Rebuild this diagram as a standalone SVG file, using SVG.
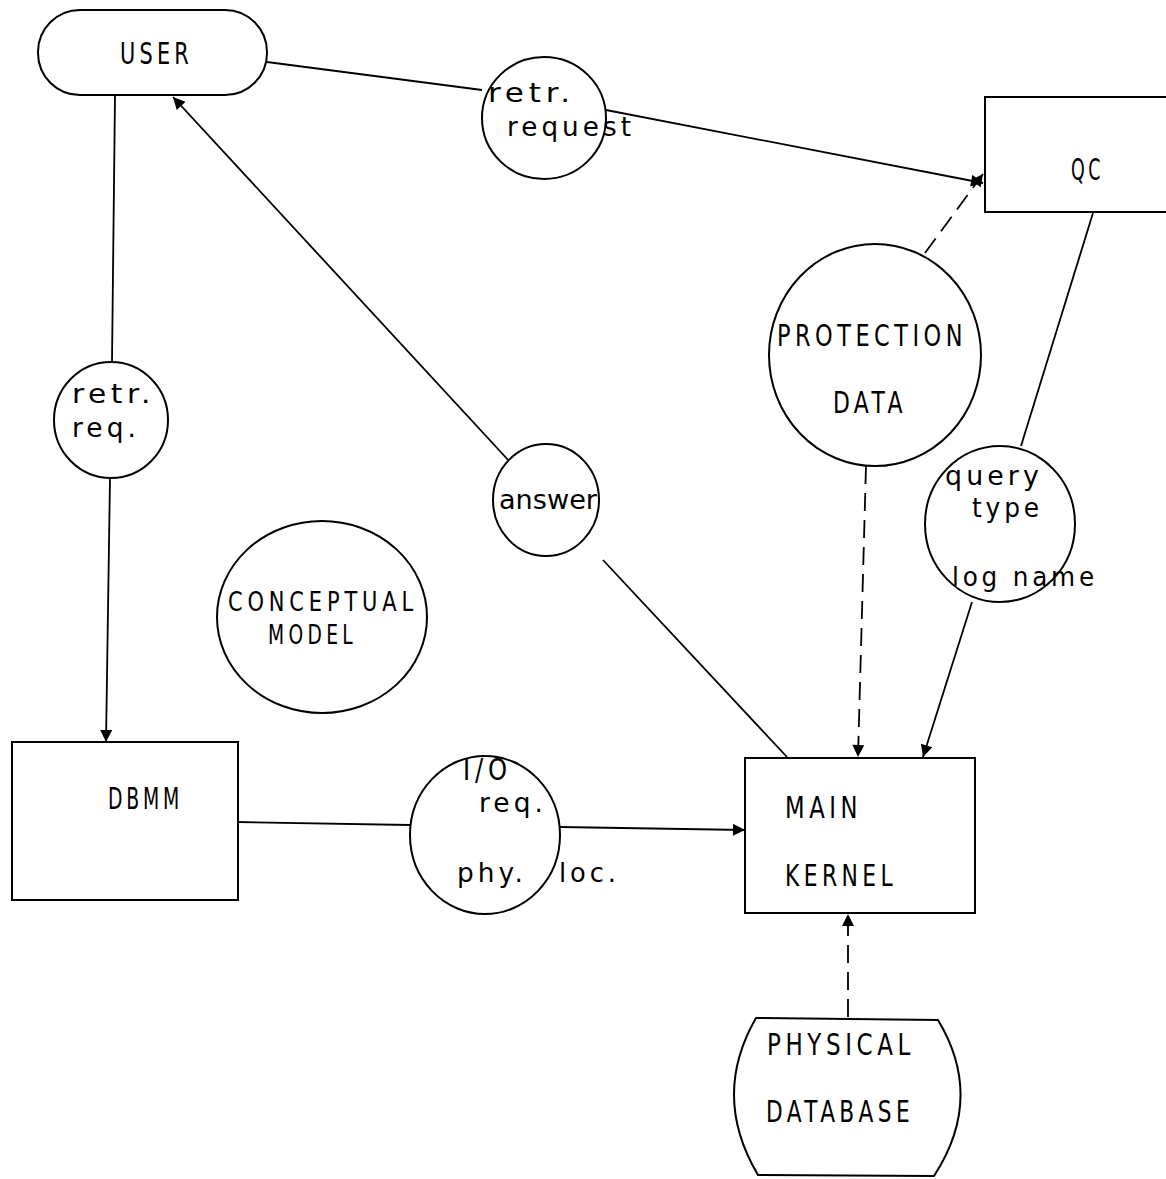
<svg xmlns="http://www.w3.org/2000/svg" width="1166" height="1179" viewBox="0 0 1166 1179">
<defs>
<marker id="ah" viewBox="0 0 10 10" refX="10" refY="5" markerWidth="15" markerHeight="12" markerUnits="userSpaceOnUse" orient="auto"><path d="M0,0 L10,5 L0,10 z" fill="#000"/></marker>
<style>
.n{fill:#fff;stroke:#000;stroke-width:2}
.c{fill:none;stroke:#000;stroke-width:1.8}
.d{fill:none;stroke:#000;stroke-width:1.8;stroke-dasharray:18 9}
text{font-family:"DejaVu Sans","Liberation Sans",sans-serif;fill:#000}
.u{font-size:30px;letter-spacing:6px}
.s{font-size:26px;letter-spacing:6px}
.l{font-size:26px;letter-spacing:4px}
</style>
</defs>
<rect width="1166" height="1179" fill="#fff"/>
<g id="connectors">
<line class="c" x1="267" y1="62" x2="482" y2="90"/>
<line class="c" x1="606" y1="110" x2="983" y2="183" marker-end="url(#ah)"/>
<line class="d" x1="925" y1="253" x2="983" y2="174" marker-end="url(#ah)"/>
<line class="c" x1="1093" y1="213" x2="1021" y2="446"/>
<line class="c" x1="972" y1="602" x2="923" y2="757" marker-end="url(#ah)"/>
<line class="d" x1="866" y1="466" x2="858" y2="757" marker-end="url(#ah)"/>
<line class="c" x1="787" y1="757" x2="603" y2="560"/>
<line class="c" x1="510" y1="462" x2="173" y2="97" marker-end="url(#ah)"/>
<line class="c" x1="115" y1="95" x2="112" y2="362"/>
<line class="c" x1="110" y1="478" x2="106" y2="742" marker-end="url(#ah)"/>
<line class="c" x1="238" y1="822" x2="410" y2="825"/>
<line class="c" x1="560" y1="827" x2="745" y2="830" marker-end="url(#ah)"/>
<line class="d" x1="848" y1="1017" x2="848" y2="914" marker-end="url(#ah)"/>
</g>
<g id="user">
<rect class="n" x="38" y="10" width="229" height="85" rx="42" ry="42"/>
<text class="u" x="120" y="64" textLength="73" lengthAdjust="spacingAndGlyphs">USER</text>
</g>
<g id="retr-request">
<ellipse class="n" cx="544" cy="118" rx="62" ry="61"/>
<text class="l" x="488" y="102" textLength="87" lengthAdjust="spacingAndGlyphs">retr.</text>
<text class="l" x="507" y="136" textLength="128" lengthAdjust="spacingAndGlyphs">request</text>
</g>
<g id="qc">
<rect class="n" x="985" y="97" width="190" height="115"/>
<text class="u" x="1071" y="180" textLength="33" lengthAdjust="spacingAndGlyphs">QC</text>
</g>
<g id="protection-data">
<ellipse class="n" cx="875" cy="355" rx="106" ry="111"/>
<text class="u" x="777" y="346" textLength="190" lengthAdjust="spacingAndGlyphs">PROTECTION</text>
<text class="u" x="833" y="413" textLength="74" lengthAdjust="spacingAndGlyphs">DATA</text>
</g>
<g id="query-type">
<ellipse class="n" cx="1000" cy="524" rx="75" ry="78"/>
<text class="l" x="945" y="485" textLength="98" lengthAdjust="spacingAndGlyphs">query</text>
<text class="l" x="972" y="517" textLength="71" lengthAdjust="spacingAndGlyphs">type</text>
<text class="l" x="952" y="586" textLength="146" lengthAdjust="spacingAndGlyphs">log name</text>
</g>
<g id="answer">
<ellipse class="n" cx="546" cy="500" rx="53" ry="56"/>
<text x="499" y="509" style="font-size:26px" textLength="98" lengthAdjust="spacingAndGlyphs">answer</text>
</g>
<g id="retr-req">
<ellipse class="n" cx="111" cy="420" rx="57" ry="58"/>
<text class="l" x="72" y="403" textLength="83" lengthAdjust="spacingAndGlyphs">retr.</text>
<text class="l" x="72" y="437" textLength="68" lengthAdjust="spacingAndGlyphs">req.</text>
</g>
<g id="conceptual-model">
<ellipse class="n" cx="322" cy="617" rx="105" ry="96"/>
<text class="s" x="228" y="611" textLength="190" lengthAdjust="spacingAndGlyphs">CONCEPTUAL</text>
<text class="s" x="268" y="644" textLength="89" lengthAdjust="spacingAndGlyphs">MODEL</text>
</g>
<g id="dbmm">
<rect class="n" x="12" y="742" width="226" height="158"/>
<text class="u" x="108" y="809" textLength="75" lengthAdjust="spacingAndGlyphs">DBMM</text>
</g>
<g id="io-req">
<ellipse class="n" cx="485" cy="835" rx="75" ry="79"/>
<text class="u" x="463" y="780" textLength="49" lengthAdjust="spacingAndGlyphs">I/O</text>
<text class="l" x="479" y="812" textLength="68" lengthAdjust="spacingAndGlyphs">req.</text>
<text class="l" x="457" y="882" textLength="70" lengthAdjust="spacingAndGlyphs">phy.</text>
<text class="l" x="559" y="882" textLength="61" lengthAdjust="spacingAndGlyphs">loc.</text>
</g>
<g id="main-kernel">
<rect class="n" x="745" y="758" width="230" height="155"/>
<text class="u" x="785" y="818" textLength="77" lengthAdjust="spacingAndGlyphs">MAIN</text>
<text class="u" x="785" y="886" textLength="112" lengthAdjust="spacingAndGlyphs">KERNEL</text>
</g>
<g id="physical-database">
<path class="n" d="M756,1018 L938,1020 Q985,1098 934,1176 L758,1175 Q711,1096 756,1018 z"/>
<text class="u" x="767" y="1055" textLength="148" lengthAdjust="spacingAndGlyphs">PHYSICAL</text>
<text class="u" x="766" y="1122" textLength="148" lengthAdjust="spacingAndGlyphs">DATABASE</text>
</g>
</svg>
